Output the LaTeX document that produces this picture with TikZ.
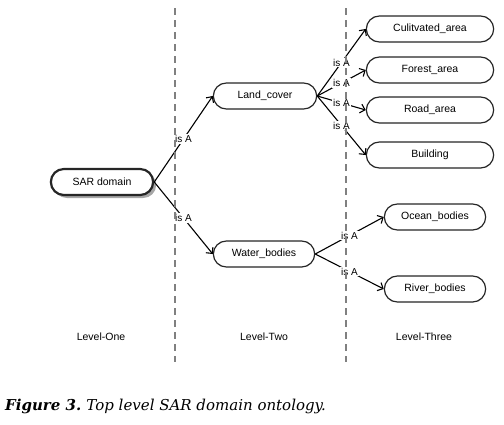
\documentclass[tikz,border=0pt]{standalone}
\usepackage{fontspec}
\setmainfont{Liberation Sans}
\newfontfamily\capfont{DejaVu Serif}
\usetikzlibrary{calc}
\usetikzlibrary{arrows.meta}
\usetikzlibrary{shapes.misc}
\usetikzlibrary{shadows}

\begin{document}
\begin{tikzpicture} [x=1pt,y=-1pt,
concept/.style={draw=black!85, fill=white, line width=1.2pt, rounded rectangle, minimum height=26, font=\fontsize{10.5}{12}\selectfont},
isa/.style={-{Straight Barb[length=4.5pt,width=9pt]}, line width=1.1pt},
lab/.style={fill=white, inner sep=1pt, font=\fontsize{10}{12}\selectfont},
sep/.style={gray, line width=1.5pt, dash pattern=on 7pt off 5pt}]
\useasboundingbox (0,0) rectangle (504,424);

% concepts
\node[concept, minimum width=109, line width=2.2pt, drop shadow={shadow xshift=3pt, shadow yshift=-3pt, fill=black!35, opacity=1}] (sar) at (102,182) {SAR domain};
\node[concept, minimum width=110] (land) at (265,96) {Land\_cover};
\node[concept, minimum width=108] (water) at (264,254) {Water\_bodies};

\node[concept, minimum width=134] (cult) at (430,29) {Culitvated\_area};
\node[concept, minimum width=134] (forest) at (430,70) {Forest\_area};
\node[concept, minimum width=134] (road) at (430,110) {Road\_area};
\node[concept, minimum width=134] (build) at (430,155) {Building};
\node[concept, minimum width=108] (ocean) at (435,217) {Ocean\_bodies};
\node[concept, minimum width=108] (river) at (435,289) {River\_bodies};

% is A links
\foreach \a/\b in {sar/land, sar/water, land/cult, land/forest, land/road, land/build, water/ocean, water/river}
\draw[isa] (\a.east) -- node[lab] {is A} (\b.west);

% levels
\node[font=\fontsize{10.5}{12}\selectfont] (one) at (101,337) {Level-One};
\node[font=\fontsize{10.5}{12}\selectfont] (two) at (264,337) {Level-Two};
\node[font=\fontsize{10.5}{12}\selectfont] (three) at (424,337) {Level-Three};

\draw[sep] (175,8) -- (175,362);
\draw[sep] (346,8) -- (346,362);

\node[anchor=base west, inner sep=0pt] (caption) at (5,410) {\capfont\fontsize{15}{18}\selectfont\bfseries\itshape Figure 3.\ \mdseries Top level SAR domain ontology.};

\end{tikzpicture}
\end{document}
